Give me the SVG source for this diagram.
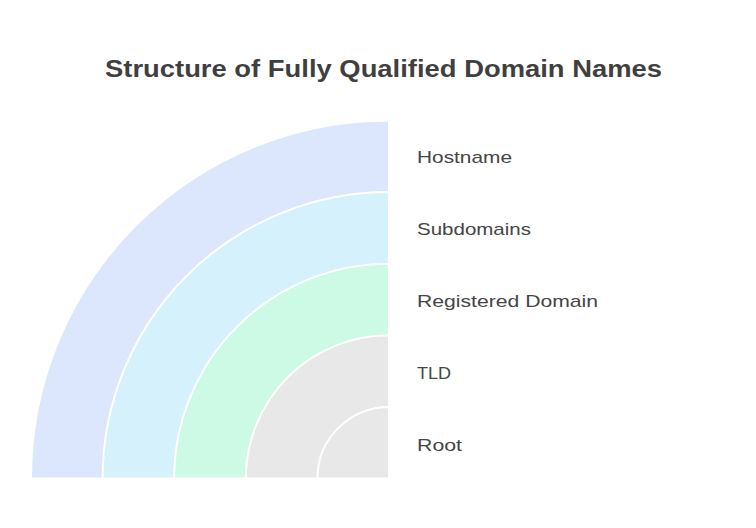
<svg xmlns="http://www.w3.org/2000/svg" width="756" height="528" viewBox="0 0 756 528">
<style>
.band{stroke:#ffffff;stroke-width:2}
.lbl{font-family:"Liberation Sans","DejaVu Sans",sans-serif;font-size:17px;fill:#454545}
.title{font-family:"Liberation Sans","DejaVu Sans",sans-serif;font-size:23px;font-weight:bold;fill:#3f3f3f}
</style>
<rect width="756" height="528" fill="#ffffff"/>
<text class="title" x="105" y="77" textLength="557" lengthAdjust="spacingAndGlyphs">Structure of Fully Qualified Domain Names</text>
<g id="hostname">
<path class="band" fill="#dce6fc" d="M389 478.5 L31 478.5 A358 358 0 0 1 389 120.5 Z"/>
<text class="lbl" x="417" y="163" textLength="95" lengthAdjust="spacingAndGlyphs">Hostname</text>
</g>
<g id="subdomains">
<path class="band" fill="#d4f1fc" d="M389 478.5 L102.6 478.5 A286.4 286.4 0 0 1 389 192.1 Z"/>
<text class="lbl" x="417" y="235" textLength="114" lengthAdjust="spacingAndGlyphs">Subdomains</text>
</g>
<g id="registered-domain">
<path class="band" fill="#ccfae4" d="M389 478.5 L174.2 478.5 A214.8 214.8 0 0 1 389 263.7 Z"/>
<text class="lbl" x="417" y="307" textLength="181" lengthAdjust="spacingAndGlyphs">Registered Domain</text>
</g>
<g id="tld">
<path class="band" fill="#e8e8e8" d="M389 478.5 L245.8 478.5 A143.2 143.2 0 0 1 389 335.3 Z"/>
<text class="lbl" x="417" y="379" textLength="34" lengthAdjust="spacingAndGlyphs">TLD</text>
</g>
<g id="root">
<path class="band" fill="#e8e8e8" d="M389 478.5 L317.4 478.5 A71.6 71.6 0 0 1 389 406.9 Z"/>
<text class="lbl" x="417" y="451" textLength="45" lengthAdjust="spacingAndGlyphs">Root</text>
</g>
<g id="connectors"></g>
</svg>
